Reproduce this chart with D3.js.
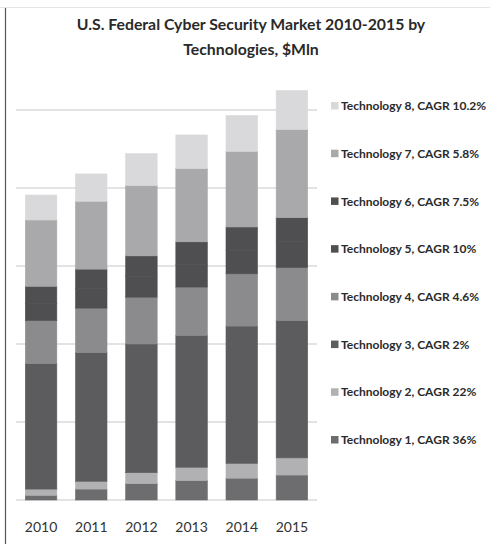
<!DOCTYPE html>
<html>
<head>
<meta charset="utf-8">
<script src="https://cdn.jsdelivr.net/npm/d3@7"></script>
<style>
  body { margin: 0; background: #fff; }
</style>
</head>
<body>
<div id="chart"></div>
<script>
// Canvas size
var width = 490;
var height = 544;

// Data (units: 100 per gridline)
var years = ["2010", "2011", "2012", "2013", "2014", "2015"];
var tech1 = [6, 14, 21, 25, 28, 32];
var tech2 = [8, 10, 14, 17, 19, 22];
var tech3 = [161, 165, 165, 169, 176, 176];
var tech4 = [55, 57, 60, 62, 67, 68];
var tech5 = [22, 25, 27, 29, 30, 33];
var tech6 = [22, 25, 26, 29, 30, 31];
var tech7 = [85, 87, 90, 94, 97, 113];
var tech8 = [32, 35, 41, 43, 46, 50];
var legendLabels = [
  "Technology 1, CAGR 36%",
  "Technology 2, CAGR 22%",
  "Technology 3, CAGR 2%",
  "Technology 4, CAGR 4.6%",
  "Technology 5, CAGR 10%",
  "Technology 6, CAGR 7.5%",
  "Technology 7, CAGR 5.8%",
  "Technology 8, CAGR 10.2%"
];
var gridTicks = [0, 100, 200, 300, 400, 500];

var colors = ["#6d6d6f", "#b1b1b3", "#5c5c5e", "#8b8b8d", "#4f4f51", "#4f4f51", "#a9a9ab", "#d9d9db"];
var keys = ["t1", "t2", "t3", "t4", "t5", "t6", "t7", "t8"];
var series = [tech1, tech2, tech3, tech4, tech5, tech6, tech7, tech8];

// Build table for d3.stack
var table = years.map(function(y, i) {
  var row = { year: y };
  keys.forEach(function(k, j) { row[k] = series[j][i]; });
  return row;
});

var svg = d3.select("#chart").append("svg")
    .attr("width", width)
    .attr("height", height);

// frame lines from the scanned page
svg.append("line")
    .attr("x1", 0).attr("x2", width).attr("y1", 7.5).attr("y2", 7.5)
    .attr("stroke", "#e4e4e4").attr("stroke-width", 1);
svg.append("line")
    .attr("x1", 5.5).attr("x2", 5.5).attr("y1", 8).attr("y2", height)
    .attr("stroke", "#555").attr("stroke-width", 1.2);

// Title
var title = svg.append("text")
    .attr("text-anchor", "middle")
    .style("font-family", "Lato, sans-serif")
    .style("font-weight", "bold")
    .style("font-size", "15.8px")
    .attr("fill", "#2a2a2a");
title.append("tspan").attr("x", 251).attr("y", 30).text("U.S. Federal Cyber Security Market 2010-2015 by");
title.append("tspan").attr("x", 251).attr("y", 55).text("Technologies, $Mln");

// Scales
var x = d3.scaleBand()
    .domain(years)
    .range([16, 317])
    .paddingInner(0.36)
    .paddingOuter(0.18);

var y = d3.scaleLinear()
    .domain([0, 500])
    .range([500, 110]);

// Gridlines
svg.append("g").selectAll("line")
  .data(gridTicks)
  .enter().append("line")
    .attr("x1", 16).attr("x2", 317)
    .attr("y1", function(d) { return y(d); })
    .attr("y2", function(d) { return y(d); })
    .attr("stroke", "#dadada")
    .attr("stroke-width", 1.3);

// Stacked bars
var stacked = d3.stack().keys(keys)(table);

var layer = svg.append("g").selectAll("g")
  .data(stacked)
  .enter().append("g")
    .attr("fill", function(d, i) { return colors[i]; })
    .attr("stroke", function(d, i) { return colors[i]; })
    .attr("stroke-width", 0.6);

layer.selectAll("rect")
  .data(function(d) { return d; })
  .enter().append("rect")
    .attr("x", function(d) { return x(d.data.year) + 0.3; })
    .attr("y", function(d) { return y(d[1]); })
    .attr("height", function(d) { return y(d[0]) - y(d[1]); })
    .attr("width", x.bandwidth() - 0.6);

// Year labels
var xAxis = svg.append("g")
    .attr("transform", "translate(0,500)")
    .call(d3.axisBottom(x).tickSize(0).tickPadding(22));
xAxis.select(".domain").remove();
xAxis.selectAll("text")
    .style("font-family", "Lato, sans-serif")
    .style("font-size", "14px")
    .attr("fill", "#333");

// Legend, top item is Technology 8
var legendY = d3.scalePoint()
    .domain(d3.range(7, -1, -1))
    .range([106, 440]);

var legend = svg.append("g").selectAll("g")
  .data(d3.range(8))
  .enter().append("g")
    .attr("transform", function(i) { return "translate(331," + legendY(i) + ")"; });

legend.append("rect")
    .attr("x", 0).attr("y", -4)
    .attr("width", 7.5).attr("height", 7.5)
    .attr("fill", function(i) { return colors[i]; });

legend.append("text")
    .attr("x", 10)
    .attr("y", 0)
    .attr("dy", "0.35em")
    .style("font-family", "Lato, sans-serif")
    .style("font-weight", "bold")
    .style("font-size", "12px")
    .attr("fill", "#2a2a2a")
    .text(function(i) { return legendLabels[i]; });
</script>
</body>
</html>
